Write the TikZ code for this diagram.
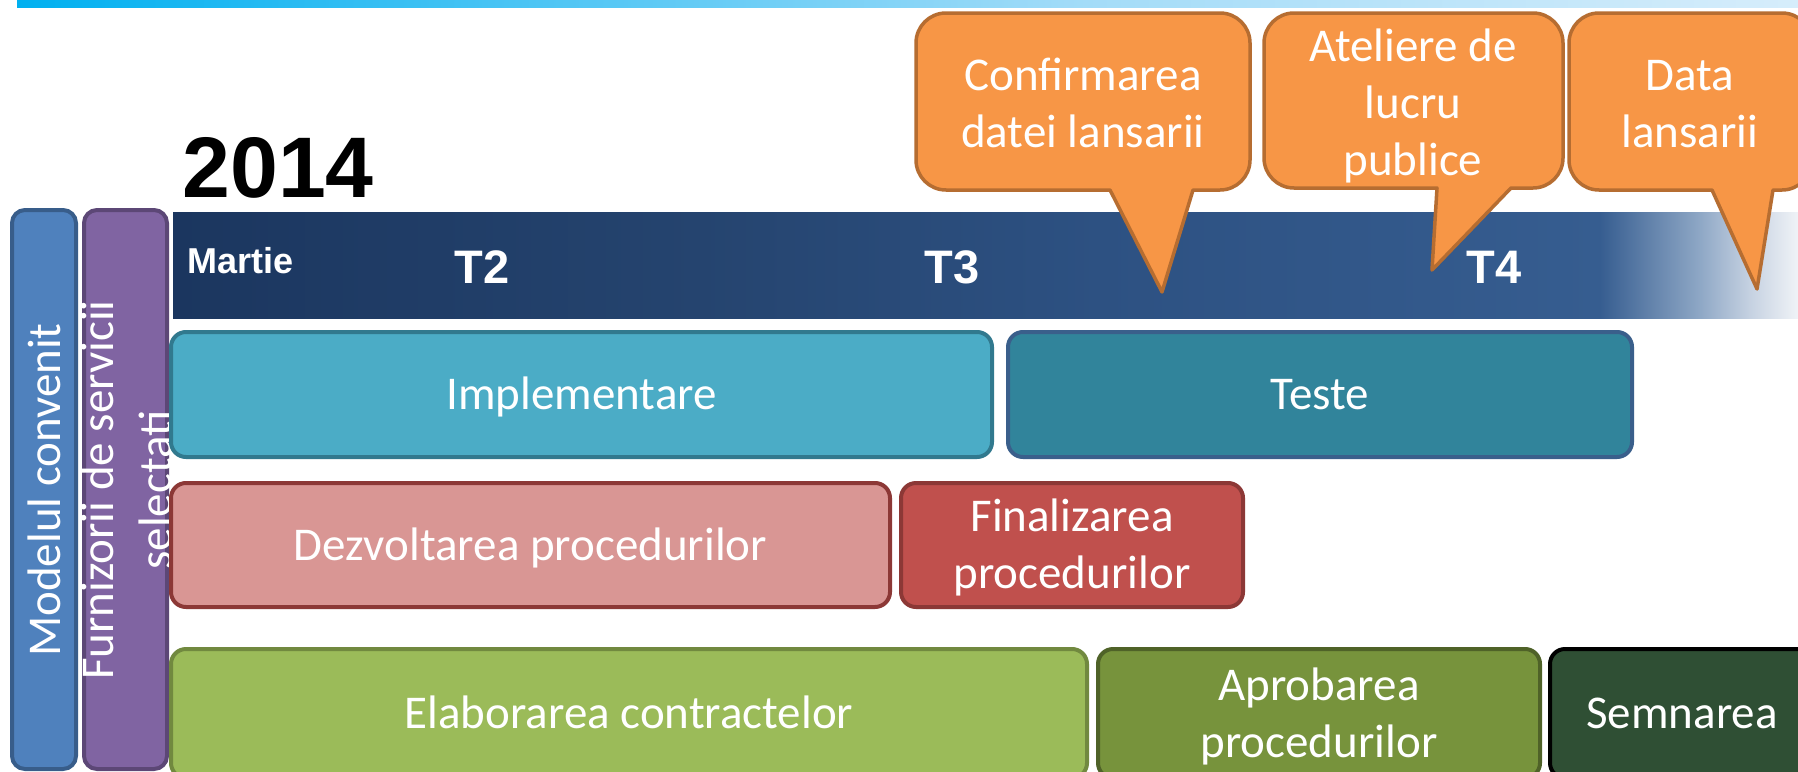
\documentclass[tikz,border=0pt]{standalone}
\usepackage{fontspec}
\setmainfont{Carlito}
\newfontfamily\arialfont{Liberation Sans}
\definecolor{topA}{HTML}{00B0F0}
\definecolor{topB}{HTML}{5CC9F5}
\definecolor{topC}{HTML}{A3DCF8}
\definecolor{topD}{HTML}{D6EDFB}
\definecolor{bandA}{HTML}{1B365F}
\definecolor{bandB}{HTML}{25446F}
\definecolor{bandC}{HTML}{2D5182}
\definecolor{bandD}{HTML}{365D90}
\definecolor{bandE}{HTML}{8FA8C6}
\definecolor{bandF}{HTML}{C5D1E1}
\definecolor{bandG}{HTML}{F0F3F7}
\definecolor{blueF}{HTML}{4F81BD}
\definecolor{blueD}{HTML}{385D8A}
\definecolor{purF}{HTML}{8064A2}
\definecolor{purD}{HTML}{5C4776}
\definecolor{implF}{HTML}{4BACC6}
\definecolor{implD}{HTML}{31798E}
\definecolor{testF}{HTML}{31849B}
\definecolor{testD}{HTML}{3A5F8B}
\definecolor{dezF}{HTML}{D99694}
\definecolor{dezD}{HTML}{8C3836}
\definecolor{finF}{HTML}{C0504D}
\definecolor{finD}{HTML}{8C3836}
\definecolor{elabF}{HTML}{9BBB59}
\definecolor{elabD}{HTML}{71893F}
\definecolor{aproF}{HTML}{77933C}
\definecolor{aproD}{HTML}{4F6228}
\definecolor{semF}{HTML}{2F4F34}
\definecolor{semD}{HTML}{000000}
\definecolor{callF}{HTML}{F79646}
\definecolor{callD}{HTML}{B66D31}
\pgfdeclarehorizontalshading{topbarshade}{100bp}{color(0bp)=(topA); color(25bp)=(topA); color(42.5bp)=(topB); color(55bp)=(topC); color(75bp)=(topD); color(100bp)=(topD)}
\pgfdeclarehorizontalshading{bandshade}{100bp}{color(0bp)=(bandA); color(25bp)=(bandA); color(41.2bp)=(bandB); color(53.5bp)=(bandC); color(68.9bp)=(bandD); color(72bp)=(bandE); color(73.5bp)=(bandF); color(75bp)=(bandG); color(100bp)=(bandG)}
\tikzset{
  boxfont/.style={font=\fontsize{23.5pt}{28.5pt}\selectfont},
  box/.style={rectangle, rounded corners=7.5pt, line width=2pt, text=white, boxfont, align=center, text height=15pt, text depth=0pt, inner sep=0pt},
  twoline/.style={text height=43.5pt, text depth=0pt},
  sidebar/.style={rectangle, rounded corners=6.5pt, line width=2pt, minimum height=279.5pt},
  sidetext/.style={text=white, rotate=90, anchor=base, align=center, inner sep=0pt, font=\fontsize{23.5pt}{29pt}\selectfont},
  callout/.style={fill=callF, draw=callD, line width=1.75pt, line join=round},
  calltext/.style={text=white, align=center, anchor=base, inner sep=0pt, boxfont},
  quarter/.style={text=white, anchor=base, inner sep=0pt, font=\arialfont\bfseries\fontsize{23.5pt}{24pt}\selectfont},
}
% L, T, R, B, tail left, tail right, tip x, tip y, radius
\newcommand\callshape[9]{%
  \draw[callout] (#1+#9,#2) -- (#3-#9,#2) arc[start angle=-90,end angle=0,radius=#9]
    -- (#3,#4-#9) arc[start angle=0,end angle=90,radius=#9]
    -- (#6,#4) -- (#7,#8) -- (#5,#4)
    -- (#1+#9,#4) arc[start angle=90,end angle=180,radius=#9]
    -- (#1,#2+#9) arc[start angle=180,end angle=270,radius=#9] -- cycle;}
\begin{document}
\begin{tikzpicture}[x=0.5pt,y=-0.5pt]
\useasboundingbox (0,0) rectangle (1798,771);
\clip (0,0) rectangle (1798,771);
\fill[white] (0,0) rectangle (1798,771);
% top bar
\shade[shading=topbarshade] (17,0) rectangle (1798,7);
% year
\node[anchor=base west, inner sep=0pt, font=\arialfont\bfseries\fontsize{43pt}{43pt}\selectfont] (year) at (182,197) {2014};
% time band
\shade[shading=bandshade] (173,212) rectangle (1798,318);
\node[quarter, font=\arialfont\bfseries\fontsize{18pt}{18pt}\selectfont, anchor=base west] (martie) at (187,273) {Martie};
\node[quarter] (t2) at (482,283) {T2};
\node[quarter] (t3) at (952,283) {T3};
\node[quarter] (t4) at (1494,283) {T4};
% side bars
\node[sidebar, fill=blueF, draw=blueD, minimum width=32pt] (model) at (44,489.5) {};
\node[sidetext] (modeltext) at (60,490) {Modelul convenit};
\node[sidebar, fill=purF, draw=purD, minimum width=41.5pt] (furn) at (125.5,489.5) {};
\node[sidetext] (furntext) at (171,490) {Furnizorii de servicii\\selectati};
% row 1
\node[box, fill=implF, draw=implD, minimum width=410.5pt, minimum height=62.5pt] (impl) at (581.5,394.5) {Implementare};
\node[box, fill=testF, draw=testD, minimum width=312pt, minimum height=62.5pt] (teste) at (1320,394.5) {Teste};
% row 2
\node[box, fill=dezF, draw=dezD, minimum width=359.5pt, minimum height=62pt] (dezv) at (530.5,545) {Dezvoltarea procedurilor};
\node[box, twoline, fill=finF, draw=finD, minimum width=171pt, minimum height=62pt] (final) at (1072,545) {Finalizarea\\procedurilor};
% row 3
\node[box, fill=elabF, draw=elabD, minimum width=458pt, minimum height=64.5pt] (elab) at (629,713.5) {Elaborarea contractelor};
\node[box, twoline, fill=aproF, draw=aproD, minimum width=221pt, minimum height=64.5pt] (apro) at (1319,713.5) {Aprobarea\\procedurilor};
\node[box, fill=semF, draw=semD, minimum width=132pt, minimum height=64.5pt] (semn) at (1682,713.5) {Semnarea};
% callouts
\callshape{916}{13}{1250}{190}{1110}{1193}{1162}{292}{30}
\node[calltext] (c1) at (1083,147) {Confirmarea\\datei lansarii};
\callshape{1264}{13}{1563}{188}{1437}{1511}{1432}{270}{30}
\node[calltext] (c2) at (1413,175) {Ateliere de\\lucru\\publice};
\callshape{1569}{13}{1812}{190}{1712}{1773}{1757}{289}{30}
\node[calltext] (c3) at (1690,147) {Data\\lansarii};
\end{tikzpicture}
\end{document}
